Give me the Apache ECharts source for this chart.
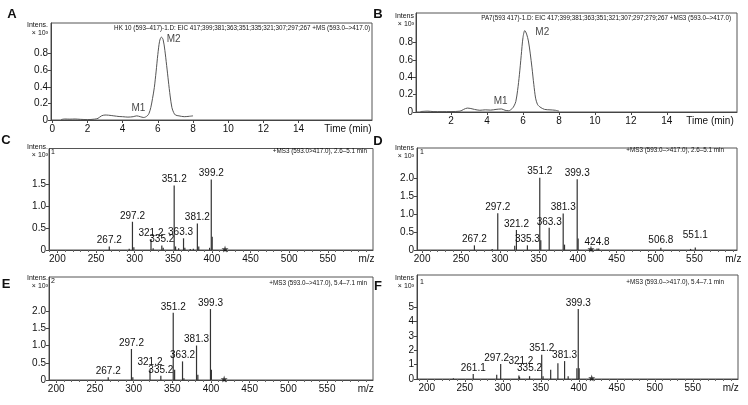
<!DOCTYPE html>
<html><head><meta charset="utf-8">
<script src="https://cdn.jsdelivr.net/npm/echarts@6/dist/echarts.min.js"></script>
<style>html,body{margin:0;padding:0;background:#fff}#c{width:748px;height:405px}</style>
</head><body><div id="c"></div>
<script>
// ---------- DATA ----------
// Panel A chromatogram (EIC, HK 10)
const timeA = [0.5,0.7,1.0,1.3,1.6,2.0,2.4,2.6,2.8,3.0,3.2,3.5,3.8,4.0,4.3,4.6,4.8,5.0,5.2,5.4,5.5,5.6,5.7,5.8,5.9,6.0,6.1,6.2,6.3,6.4,6.5,6.6,6.7,6.8,6.9,7.0,7.2,7.5,7.8,8.0];
const intA  = [0.005,0.012,0.01,0.012,0.008,0.005,0.01,0.02,0.05,0.06,0.058,0.05,0.042,0.04,0.035,0.04,0.05,0.04,0.03,0.05,0.08,0.15,0.26,0.39,0.58,0.79,0.95,1.0,0.97,0.84,0.66,0.47,0.29,0.15,0.09,0.06,0.05,0.04,0.045,0.05];
// Panel B chromatogram (EIC, PA7)
const timeB = [0.3,0.7,1.0,1.5,2.0,2.5,2.7,2.9,3.1,3.3,3.6,3.9,4.2,4.5,4.8,5.0,5.2,5.4,5.5,5.6,5.7,5.8,5.9,6.0,6.1,6.2,6.3,6.4,6.5,6.6,6.7,6.8,6.9,7.0,7.2,7.5,7.8,8.0];
const intB  = [0.005,0.01,0.005,0.004,0.005,0.01,0.03,0.045,0.04,0.03,0.02,0.025,0.022,0.03,0.035,0.02,0.015,0.04,0.07,0.12,0.25,0.43,0.65,0.86,0.94,0.9,0.82,0.68,0.51,0.32,0.16,0.09,0.065,0.05,0.03,0.025,0.02,0.01];
const peakNamesA = ['M1','M2'];
const peakTimeA = [4.9, 6.9];
const peakIntA  = [0.136, 0.97];
const peakNamesB = ['M1','M2'];
const peakTimeB = [4.76, 7.07];
const peakIntB  = [0.127, 0.92];

// Panel C spectrum (labelled and unlabelled peaks)
const mzC  = [267.2,297.2,321.2,335.2,351.2,363.3,381.2,399.2];
const intC = [0.08,0.64,0.25,0.10,1.46,0.265,0.60,1.60];
const mzCm  = [293,299,324,337,353,357,365,372,376,383,397,400.4];
const intCm = [0.03,0.06,0.04,0.05,0.08,0.04,0.05,0.02,0.03,0.08,0.05,0.30];
// Panel D
const mzD  = [267.2,297.2,321.2,335.3,351.2,363.3,381.3,399.3,424.8,506.8,551.1];
const intD = [0.13,1.03,0.56,0.13,2.02,0.62,1.02,1.98,0.04,0.06,0.07];
const mzDm  = [290,319,352.5,383,400.5,427,545];
const intDm = [0.03,0.12,0.27,0.15,0.32,0.04,0.03];
// Panel E
const mzE  = [267.2,297.2,321.2,335.2,351.2,363.2,381.3,399.3];
const intE = [0.08,0.90,0.33,0.12,1.95,0.54,1.00,2.06];
const mzEm  = [299,353,365,383,400.5];
const intEm = [0.08,0.30,0.05,0.15,0.30];
// Panel F
const mzF  = [261.1,297.2,321.2,335.2,351.2,381.3,399.3];
const intF = [0.35,1.05,0.25,0.20,1.70,1.25,4.88];
const mzFm  = [235,292,322,353,363,372.5,386,397.5,400.5];
const intFm = [0.05,0.30,0.15,0.20,0.65,1.10,0.20,0.75,0.75];
// precursor marker (*) position
const starMz = 417;

// tick labels
const xTicksTime = [0,2,4,6,8,10,12,14];
const xTicksTimeB = [2,4,6,8,10,12,14];
const xTicksMz = [200,250,300,350,400,450,500,550];
const yTicksAB = [0,0.2,0.4,0.6,0.8];
const yTicksC = [0,0.5,1.0,1.5];
const yTicksDE = [0,0.5,1.0,1.5,2.0];
const yTicksF = [0,1,2,3,4,5];

// ---------- LAYOUT / STYLE ----------
const FONT = '"Liberation Sans", Arial, sans-serif';
const INK = '#111';
const AX = '#444';
const STAR = 'path://M50,0 L61,35 L98,35 L68,57 L79,91 L50,70 L21,91 L32,57 L2,35 L39,35 Z';
const L = {
  A:{left:51, top:23, width:321, height:97, x:[-0.07,18.17], y:1.17},
  B:{left:416, top:13, width:321, height:99, x:[0.05,17.9], y:1.143},
  C:{left:49, top:148.5, width:324, height:101.5, x:[189.2,608.5], y:2.30},
  D:{left:417, top:148, width:320, height:102, x:[193.4,604.7], y:2.85},
  E:{left:49, top:277, width:324, height:103, x:[190.7,609.3], y:2.99},
  F:{left:417, top:275, width:321, height:104, x:[187.1,609.5], y:7.26}
};
// per-label nudges (pixels) to mimic the original label placement
const labelNudge = {
  C:{'363.3':[-3,0]},
  D:{'551.1':[0,-6],'506.8':[0,-2]},
  E:{},
  F:{'297.2':[-4,0],'321.2':[2,-8],'335.2':[0,-2]}
};

const grid=[], xAxis=[], yAxis=[], series=[];

function addPanel(key, xLabelVals, xTickVals, xFmt, yTicks, yFmt, minorStep) {
  const l = L[key];
  const gi = grid.length;
  grid.push({left:l.left, top:l.top, width:l.width, height:l.height, show:true, borderColor:'#555', borderWidth:1, backgroundColor:'transparent'});
  const xi = xAxis.length;
  xAxis.push({gridIndex:gi, type:'value', position:'bottom', min:l.x[0], max:l.x[1],
    axisLine:{show:true, onZero:false, lineStyle:{color:AX, width:1}},
    axisTick:{show:true, inside:false, length:3, customValues:xTickVals, lineStyle:{color:AX}},
    axisLabel:{customValues:xLabelVals, formatter:xFmt, margin:4, fontSize:10, color:INK, fontFamily:FONT},
    splitLine:{show:false}});
  if (minorStep) {
    const minor=[];
    for (let v=Math.ceil(l.x[0]/minorStep)*minorStep; v<=l.x[1]; v+=minorStep) minor.push(+v.toFixed(3));
    xAxis.push({gridIndex:gi, type:'value', position:'bottom', min:l.x[0], max:l.x[1],
      axisLine:{show:false}, axisTick:{show:true, length:2, customValues:minor, lineStyle:{color:'#666'}},
      axisLabel:{show:false}, splitLine:{show:false}});
  }
  const yi = yAxis.length;
  yAxis.push({gridIndex:gi, type:'value', min:0, max:l.y,
    axisLine:{show:true, onZero:false, lineStyle:{color:AX, width:1}},
    axisTick:{show:true, inside:false, length:3, customValues:yTicks, lineStyle:{color:AX}},
    axisLabel:{customValues:yTicks, formatter:yFmt, margin:3, fontSize:10, color:INK, fontFamily:FONT},
    splitLine:{show:false}});
  return {xi, yi};
}

const fmtTime = () => v => (v > 15 ? 'Time (min)' : String(v));
const fmtMz = v => (v > 575 ? 'm/z' : String(v));
const fmt1 = v => (v === 0 ? '0' : v.toFixed(1));
const fmt0 = v => String(v);

function chromPanel(key, labels, t, y, pn, pt, pi) {
  const a = addPanel(key, labels, xTicksTime, fmtTime(), yTicksAB, fmt1, 0);
  series.push({type:'line', xAxisIndex:a.xi, yAxisIndex:a.yi, data:t.map((v,k)=>[v,y[k]]),
    showSymbol:false, smooth:0.3, lineStyle:{color:'#555', width:1}, silent:true});
  series.push({type:'scatter', xAxisIndex:a.xi, yAxisIndex:a.yi,
    data:pn.map((n,k)=>({name:n, value:[pt[k],pi[k]]})), symbolSize:1, itemStyle:{color:'transparent'},
    label:{show:true, position:'inside', formatter:'{b}', fontSize:10, color:INK, fontFamily:FONT}});
}

function specPanel(key, yTicks, yFmt, mz, it, mzm, itm) {
  const a = addPanel(key, xTicksMz.concat([600]), xTicksMz, fmtMz, yTicks, yFmt, 10);
  const nud = labelNudge[key];
  const data = mz.map((m,k)=>{
      const o = nud[m.toFixed(1)];
      return o ? {value:[m,it[k]], label:{offset:o}} : {value:[m,it[k]]};
    })
    .concat(mzm.map((m,k)=>({value:[m,itm[k]], label:{show:false}})));
  series.push({type:'bar', xAxisIndex:a.xi, yAxisIndex:a.yi, data, barWidth:1.2, barGap:'-100%',
    itemStyle:{color:'#333'},
    label:{show:true, position:'top', distance:1, fontSize:10, color:INK, fontFamily:FONT,
      formatter:p=>p.value[0].toFixed(1)}});
  series.push({type:'scatter', xAxisIndex:a.xi, yAxisIndex:a.yi, data:[[starMz, 0]], clip:false,
    symbol:STAR, symbolSize:7, symbolOffset:[0,-1], itemStyle:{color:'#111'}, silent:true, z:5});
}

chromPanel('A', xTicksTime.concat([16.8]), timeA, intA, peakNamesA, peakTimeA, peakIntA);
chromPanel('B', xTicksTimeB.concat([16.4]), timeB, intB, peakNamesB, peakTimeB, peakIntB);
specPanel('C', yTicksC, fmt1, mzC, intC, mzCm, intCm);
specPanel('D', yTicksDE, fmt1, mzD, intD, mzDm, intDm);
specPanel('E', yTicksDE, fmt1, mzE, intE, mzEm, intEm);
specPanel('F', yTicksF, fmt0, mzF, intF, mzFm, intFm);

// ---------- TEXT ----------
const g = [];
function txt(x,y,text,size,align,weight){
  g.push({type:'text', x, y, silent:true, style:{text, fontSize:size, fontFamily:FONT, fontWeight:weight||'normal', fill:INK, align:align||'left', verticalAlign:'middle'}});
}
// panel letters
txt(12,14,'A',13,'center','bold'); txt(378,14,'B',13,'center','bold');
txt(6,140,'C',13,'center','bold'); txt(378,141,'D',13,'center','bold');
txt(6,284,'E',13,'center','bold'); txt(378,286,'F',13,'center','bold');
// intensity labels
[[48,25,'Intens.'],[414,16,'Intens'],[48,147,'Intens.'],[414,148,'Intens'],[48,278,'Intens.'],[414,278,'Intens']]
  .forEach(([x,y,t])=>{ txt(x,y,t,7,'right'); txt(x,y+8,'× 10³',7,'right'); });
// headers
txt(370,28,'HK 10 (593–417)-1.D: EIC 417;399;381;363;351;335;321;307;297;267 +MS (593.0–>417.0)',6.3,'right');
txt(731,18,'PA7(593 417)-1.D: EIC 417;399;381;363;351;321;307;297;279;267 +MS3 (593.0–>417.0)',6.3,'right');
txt(367,151,'+MS3 (593.0>417.0), 2.6–5.1 min',6.3,'right');
txt(724,150,'+MS3 (593.0–>417.0), 2.6–5.1 min',6.3,'right');
txt(367,283,'+MS3 (593.0–>417.0), 5.4–7.1 min',6.3,'right');
txt(724,282,'+MS3 (593.0–>417.0), 5.4–7.1 min',6.3,'right');
// scan numbers
txt(51,152,'1',7); txt(420,152,'1',7); txt(51,281,'2',7); txt(420,282,'1',7);

const chart = echarts.init(document.getElementById('c'));
chart.setOption({animation:false, backgroundColor:'#fff', grid, xAxis, yAxis, series, graphic:g});
</script></body></html>
